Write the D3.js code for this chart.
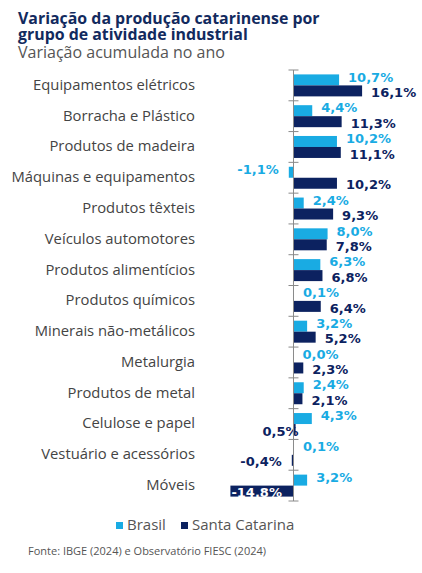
<!DOCTYPE html>
<html><head><meta charset="utf-8">
<script src="https://cdn.jsdelivr.net/npm/d3@7"></script>
<style>
html,body{margin:0;padding:0;background:#fff;}
svg{display:block;}
</style></head>
<body>
<svg id="c" width="422" height="573"></svg>
<script>
const categories = ["Equipamentos elétricos","Borracha e Plástico","Produtos de madeira","Máquinas e equipamentos","Produtos têxteis","Veículos automotores","Produtos alimentícios","Produtos químicos","Minerais não-metálicos","Metalurgia","Produtos de metal","Celulose e papel","Vestuário e acessórios","Móveis"];
const brasil = [10.7,4.4,10.2,-1.1,2.4,8.0,6.3,0.1,3.2,0.0,2.4,4.3,0.1,3.2];
const santaCatarina = [16.1,11.3,11.1,10.2,9.3,7.8,6.8,6.4,5.2,2.3,2.1,0.5,-0.4,-14.8];
const brasilLabels = ["10,7%","4,4%","10,2%","-1,1%","2,4%","8,0%","6,3%","0,1%","3,2%","0,0%","2,4%","4,3%","0,1%","3,2%"];
const scLabels = ["16,1%","11,3%","11,1%","10,2%","9,3%","7,8%","6,8%","6,4%","5,2%","2,3%","2,1%","0,5%","-0,4%","-14.8%"];
const seriesNames = ["Brasil","Santa Catarina"];
const titleLines = ["Variação da produção catarinense por","grupo de atividade industrial"];
const subtitle = "Variação acumulada no ano";
const source = "Fonte: IBGE (2024) e Observatório FIESC (2024)";

const colors = {Brasil:"#19abe3", "Santa Catarina":"#0c2260"};
const FONT = "'Open Sans', sans-serif";
const LFONT = "'DejaVu Sans', sans-serif";
const svg = d3.select("#c");

// titles
svg.selectAll("text.title").data(titleLines).join("text").attr("class","title")
  .attr("x",18).attr("y",(d,i)=>23.5+i*16.5)
  .attr("font-family",FONT).attr("font-weight",700).attr("font-size",15.9)
  .attr("fill","#122a5e").text(d=>d);
svg.append("text").attr("x",18).attr("y",58)
  .attr("font-family",FONT).attr("font-size",16).attr("fill","#555").text(subtitle);

// scales
const x = d3.scaleLinear().domain([-16,18]).range([225.3,370.2]);
const y = d3.scaleBand().domain(categories).range([70,501]).paddingInner(0.286).paddingOuter(0.143);
const ySub = d3.scaleBand().domain(seriesNames).range([0,y.bandwidth()]);

const rows = categories.map((c,i)=>({cat:c, vals:[
  {s:"Brasil", v:brasil[i], lab:brasilLabels[i]},
  {s:"Santa Catarina", v:santaCatarina[i], lab:scLabels[i]}]}));

// category labels
svg.append("g").selectAll("text").data(categories).join("text")
  .attr("x",195).attr("y",d=>y(d)+y.bandwidth()/2).attr("dy","0.3em")
  .attr("text-anchor","end").attr("font-family",FONT).attr("font-size",14.8)
  .attr("fill","#444").text(d=>d);

// bars
const g = svg.append("g").selectAll("g").data(rows).join("g")
  .attr("transform",d=>`translate(0,${y(d.cat)})`);
g.selectAll("rect").data(d=>d.vals).join("rect")
  .attr("x",d=>x(Math.min(0,d.v))).attr("y",d=>ySub(d.s))
  .attr("width",d=>Math.abs(x(d.v)-x(0))).attr("height",ySub.bandwidth())
  .attr("fill",d=>colors[d.s]);

// axis
const step = y.step();
const ticks = d3.range(categories.length+1).map(i=>70+i*step);
svg.append("line").attr("x1",x(0)).attr("x2",x(0)).attr("y1",70).attr("y2",501)
  .attr("stroke","#8a8a8a").attr("stroke-width",1);
svg.append("g").selectAll("line").data(ticks).join("line")
  .attr("x1",x(0)-5).attr("x2",x(0)+5).attr("y1",d=>d).attr("y2",d=>d)
  .attr("stroke","#8a8a8a").attr("stroke-width",1);

// value labels
const insideBase = ["Celulose e papel"];
g.each(function(row){
  d3.select(this).selectAll("text").data(row.vals).join("text")
    .attr("font-family",LFONT).attr("font-weight",700).attr("font-size",13)
    .attr("dy","0.36em")
    .each(function(d){
      const t = d3.select(this);
      const cy = ySub(d.s)+ySub.bandwidth()/2 + (d.s==="Brasil"? -3 : 1.5);
      t.attr("y",cy).text(d.lab).attr("fill",colors[d.s]);
      if (d.s==="Santa Catarina" && insideBase.includes(row.cat)) {
        t.attr("x",x(0)+5).attr("text-anchor","end");
      } else if (d.v < -10) {
        t.attr("x",x(d.v)+1).attr("text-anchor","start").attr("fill","#fff");
      } else if (d.v < 0) {
        t.attr("x",x(d.v)-10).attr("text-anchor","end");
      } else {
        t.attr("x",x(d.v)+9).attr("text-anchor","start");
      }
    });
});

// legend
const leg = svg.append("g").selectAll("g").data(seriesNames).join("g")
  .attr("transform",(d,i)=>`translate(${i?181:116},0)`);
leg.append("rect").attr("x",0).attr("y",522).attr("width",7).attr("height",7).attr("fill",d=>colors[d]);
leg.append("text").attr("x",11).attr("y",529.5).attr("font-family",FONT).attr("font-size",15)
  .attr("fill","#555").text(d=>d);

svg.append("text").attr("x",28).attr("y",555).attr("font-family",FONT).attr("font-size",11)
  .attr("fill","#555").text(source);
</script>
</body></html>
